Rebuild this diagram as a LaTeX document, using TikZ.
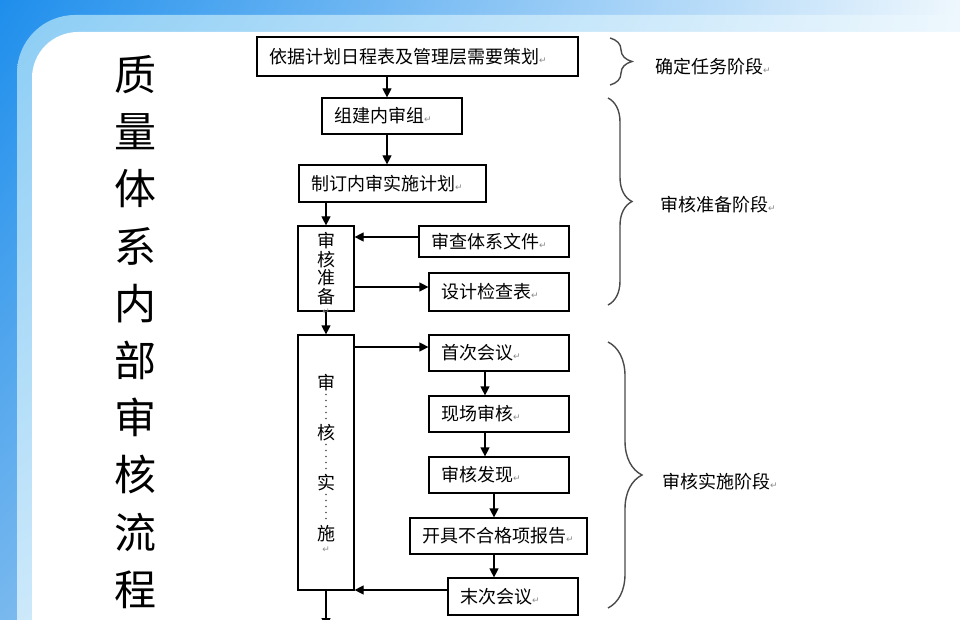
\documentclass[tikz,border=0pt]{standalone}
\usepackage{fontspec}
\setmainfont{Noto Sans CJK SC}
\newfontfamily\dejavufont{DejaVu Sans}
\usetikzlibrary{arrows.meta,decorations.pathreplacing,calc,shadings}
\definecolor{bgA}{HTML}{1E8EEC}
\definecolor{bgB}{HTML}{EEF7FD}
\definecolor{bgC}{HTML}{78B8EE}
\definecolor{bandA}{HTML}{8CCDF5}
\definecolor{bandB}{HTML}{F6FBFE}
\definecolor{bandC}{HTML}{D4ECFB}
\definecolor{retgray}{HTML}{8A8A8A}
\definecolor{bracegray}{HTML}{4A4A4A}
\newcommand\retmark{{\dejavufont\fontsize{9}{9}\selectfont\textcolor{retgray}{↵}}}
\newcommand\retbelow[1]{\smash{\makebox[0pt][r]{\raisebox{#1}{\retmark\hspace{5pt}}}}}
\begin{document}
\begin{tikzpicture}[x=1pt,y=-1pt,
  box/.style={draw=black, line width=1.2pt, inner xsep=12pt, inner ysep=0pt, align=left,
    font=\fontsize{18}{21}\selectfont},
  vbox/.style={draw=black, line width=1.2pt, inner sep=0pt, align=center, minimum width=56pt},
  arr/.style={line width=1.2pt, -{Triangle[length=9pt,width=9pt]}},
  brc/.style={draw=bracegray, line width=1.4pt, decorate, decoration={brace, amplitude=#1}},
  lbl/.style={anchor=west, inner sep=0pt, font=\fontsize{18}{21}\selectfont},
  dots/.style={line width=1.8pt, line cap=round, dash pattern=on 0pt off 6pt, draw=black!70}
]
\useasboundingbox (0,0) rectangle (960,620);
% background frame
\shade[upper left=bgA, upper right=bgB, lower left=bgC, lower right=white] (0,0) rectangle (960,620);
\shade[upper left=bandA, upper right=bandB, lower left=bandC, lower right=white, rounded corners=58pt] (17,15) rectangle (1040,700);
\fill[white, rounded corners=46pt] (32,32) rectangle (1040,700);

% title
\node[inner sep=0pt, align=center, font=\fontsize{42}{57.2}\selectfont] (title) at (135,332)
  {质\\量\\体\\系\\内\\部\\审\\核\\流\\程};

% boxes
\node[box, minimum width=321pt, text width=297pt, minimum height=39pt] (plan) at (417.5,56.5) {依据计划日程表及管理层需要策划\retmark};
\node[box, minimum width=140pt, text width=116pt, minimum height=36pt] (team) at (392,116) {组建内审组\retmark};
\node[box, minimum width=187pt, text width=163pt, minimum height=37pt] (iplan) at (392.5,183.5) {制订内审实施计划\retmark};
\node[vbox, minimum height=85pt, font=\fontsize{18}{18.7}\selectfont] (prep) at (326,268.5)
  {审\\核\\准\\备\retbelow{-11pt}};
\node[box, minimum width=150pt, text width=126pt, minimum height=31pt] (doc) at (494,241.5) {审查体系文件\retmark};
\node[box, minimum width=140pt, text width=116pt, minimum height=38pt] (chk) at (499,292) {设计检查表\retmark};
\node[vbox, minimum height=255pt, font=\fontsize{18}{50.3}\selectfont] (exec) at (326,462.5)
  {审\\核\\实\\施\retbelow{-12pt}\rule[-11pt]{0pt}{11pt}};
\node[box, minimum width=140pt, text width=116pt, minimum height=36pt] (first) at (499,353) {首次会议\retmark};
\node[box, minimum width=140pt, text width=116pt, minimum height=36pt] (site) at (499,414) {现场审核\retmark};
\node[box, minimum width=140pt, text width=116pt, minimum height=36pt] (find) at (499,475) {审核发现\retmark};
\node[box, minimum width=177pt, text width=153pt, minimum height=36pt] (ncr) at (498.5,536) {开具不合格项报告\retmark};
\node[box, minimum width=130pt, text width=106pt, minimum height=37pt] (last) at (513,596.5) {末次会议\retmark};

% dotted separators inside the vertical box
\draw[dots] ([yshift=68pt]exec.center) -- ([yshift=40pt]exec.center);
\draw[dots] ([yshift=18pt]exec.center) -- ([yshift=-10pt]exec.center);
\draw[dots] ([yshift=-32pt]exec.center) -- ([yshift=-60pt]exec.center);

% connectors
\draw[arr] ([xshift=-30.5pt]plan.south) -- ([xshift=-5pt]team.north);
\draw[arr] ([xshift=-5pt]team.south) -- ([xshift=-5.5pt]iplan.north);
\draw[arr] (iplan.south -| prep.north) -- (prep.north);
\draw[arr] ([yshift=4.5pt]doc.west) -- ([yshift=4.5pt]doc.west -| prep.east);
\draw[arr] ([yshift=5pt]chk.west -| prep.east) -- ([yshift=5pt]chk.west);
\draw[arr] (prep.south) -- (exec.north);
\draw[arr] ([yshift=6pt]first.west -| exec.east) -- ([yshift=6pt]first.west);
\draw[arr] ([xshift=-14pt]first.south) -- ([xshift=-14pt]site.north);
\draw[arr] ([xshift=-14pt]site.south) -- ([xshift=-14pt]find.north);
\draw[arr] ([xshift=-5pt]find.south) -- ([xshift=-4.5pt]ncr.north);
\draw[arr] ([xshift=-4.5pt]ncr.south) -- ([xshift=-19pt]last.north);
\draw[arr] ([yshift=6.5pt]last.west) -- ([yshift=6.5pt]last.west -| exec.east);
\coordinate (out) at (326,627);
\draw[arr] (exec.south) -- (out);

% braces and phase labels
\draw[brc=22] (610,38) -- (610,85);
\draw[brc=24] (608,98) -- (608,305);
\draw[brc=34] (608,342) -- (608,608);
\node[lbl] (ph1) at (655,67) {确定任务阶段\retmark};
\node[lbl] (ph2) at (660,205) {审核准备阶段\retmark};
\node[lbl] (ph3) at (662,482) {审核实施阶段\retmark};
\end{tikzpicture}
\end{document}
